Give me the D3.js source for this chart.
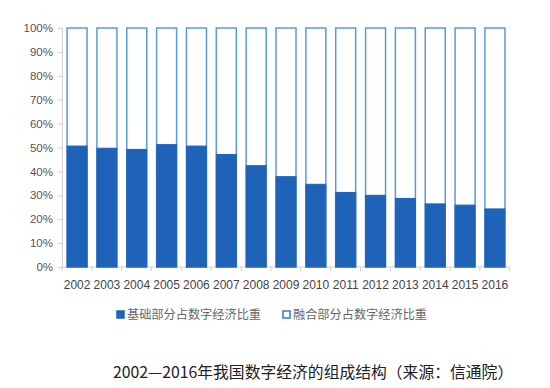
<!DOCTYPE html>
<html>
<head>
<meta charset="utf-8">
<script src="https://cdn.jsdelivr.net/npm/d3@7"></script>
<style>
  body { margin: 0; background: #fff; }
  svg { display: block; }
</style>
</head>
<body>
<div id="chart"></div>
<script>
// data
var years = ["2002","2003","2004","2005","2006","2007","2008","2009","2010","2011","2012","2013","2014","2015","2016"];
var basePart = [50.6, 49.7, 49.2, 51.2, 50.6, 47.1, 42.4, 37.8, 34.6, 31.2, 30.0, 28.7, 26.4, 25.9, 24.3];
var yTicks = [0, 10, 20, 30, 40, 50, 60, 70, 80, 90, 100];
var legendNames = ["基础部分占数字经济比重", "融合部分占数字经济比重"];
var title = "2002—2016年我国数字经济的组成结构（来源：信通院）";

const W = 550, H = 388;
const margin = {top: 28, right: 40, bottom: 121, left: 62};
var width = W - margin.left - margin.right;
var height = H - margin.top - margin.bottom;

var fillBlue = "#1f63b9", lineBlue = "#5b9bd5";

var svg = d3.select("#chart").append("svg")
    .attr("width", W)
    .attr("height", H);

var g = svg.append("g")
    .attr("transform", "translate(" + margin.left + "," + margin.top + ")");

var xScale = d3.scaleBand().domain(years).range([0, width]).paddingInner(0.33).paddingOuter(0.17);
var yScale = d3.scaleLinear().domain([0, 100]).range([height, 0]);

// axes
var yAxis = d3.axisLeft(yScale).tickValues(yTicks).tickSize(4).tickFormat(function(d) { return d + "%"; });
var ya = g.append("g").call(yAxis);
ya.select(".domain").attr("stroke", "#d0d0d0");
ya.selectAll(".tick line").attr("stroke", "#d0d0d0");
ya.selectAll(".tick text")
    .attr("x", -9)
    .attr("fill", "#555")
    .style("font-family", "'Liberation Sans', Arial, sans-serif")
    .style("font-size", "11.5px");

var xa = g.append("g").attr("transform", "translate(0," + height + ")");
xa.append("line")
    .attr("x1", 0).attr("x2", width)
    .attr("stroke", "#d0d0d0");
// ticks between categories
xa.selectAll(".xt")
    .data(years.concat(["end"]))
    .enter()
    .append("line")
    .attr("x1", function(d, i) { return i * xScale.step(); })
    .attr("x2", function(d, i) { return i * xScale.step(); })
    .attr("y1", 0).attr("y2", 4)
    .attr("stroke", "#d0d0d0");
xa.selectAll(".xl")
    .data(years)
    .enter()
    .append("text")
    .attr("x", function(d) { return xScale(d) + xScale.bandwidth() / 2; })
    .attr("y", 22)
    .attr("text-anchor", "middle")
    .attr("fill", "#444")
    .style("font-family", "'Liberation Sans', Arial, sans-serif")
    .style("font-size", "12px")
    .text(function(d) { return d; });

// bars: open part on top (100%) then the filled base part
var bars = g.append("g");
bars.selectAll(".open")
    .data(years)
    .enter()
    .append("rect")
    .attr("x", function(d) { return xScale(d); })
    .attr("y", yScale(100))
    .attr("width", xScale.bandwidth())
    .attr("height", yScale(0) - yScale(100))
    .attr("fill", "#fff")
    .attr("stroke", lineBlue)
    .attr("stroke-width", 1.5);

bars.selectAll(".base")
    .data(basePart)
    .enter()
    .append("rect")
    .attr("x", function(d, i) { return xScale(years[i]); })
    .attr("y", function(d) { return yScale(d); })
    .attr("width", xScale.bandwidth())
    .attr("height", function(d) { return yScale(0) - yScale(d); })
    .attr("fill", fillBlue)
    .attr("stroke", fillBlue)
    .attr("stroke-width", 1);

// legend
var legend = svg.append("g").attr("transform", "translate(0,316)");
var lx = [117, 283];
legendNames.forEach(function(name, i) {
    legend.append("rect")
        .attr("x", lx[i]).attr("y", -5)
        .attr("width", 7).attr("height", 7)
        .attr("fill", i == 0 ? fillBlue : "#fff")
        .attr("stroke", i == 0 ? fillBlue : "#2f7bd0")
        .attr("stroke-width", 1.5);
    legend.append("text")
        .attr("x", lx[i] + 10)
        .attr("y", 1)
        .attr("dy", "0.2em")
        .attr("fill", "#666")
        .style("font-family", "'Noto Sans CJK SC', sans-serif")
        .style("font-size", "12.2px")
        .text(name);
});

// caption
svg.append("text")
    .attr("x", 113)
    .attr("y", 378)
    .attr("fill", "#222")
    .style("font-family", "'Noto Sans CJK SC', sans-serif")
    .style("font-size", "15.8px")
    .text(title);
</script>
</body>
</html>
